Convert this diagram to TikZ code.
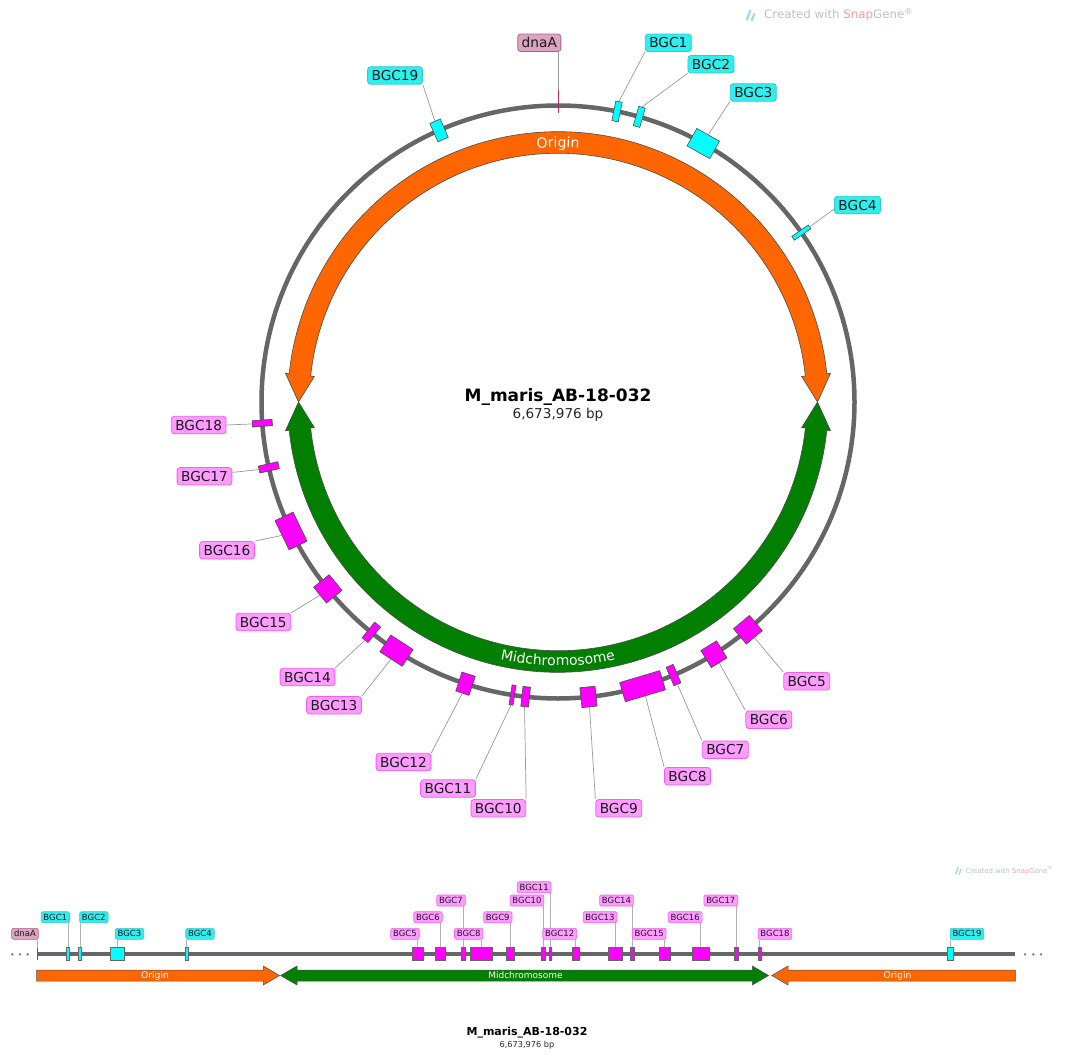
\documentclass[tikz,border=0pt]{standalone}
\usepackage{fontspec}
\setmainfont{DejaVu Sans}
\usetikzlibrary{decorations.text}
\pgfdeclarelayer{leaders}
\pgfsetlayers{leaders,main}
\definecolor{bbC}{HTML}{666666}
\definecolor{orangeC}{HTML}{FF6600}
\definecolor{greenC}{HTML}{007F00}
\definecolor{cyanF}{HTML}{00FFFF}
\definecolor{cyanL}{HTML}{2EEEEE}
\definecolor{cyanD}{HTML}{3BC8C8}
\definecolor{magF}{HTML}{FF00FF}
\definecolor{pinkL}{HTML}{FF9CFF}
\definecolor{pinkD}{HTML}{F060F0}
\definecolor{dnaL}{HTML}{D9A5C0}
\definecolor{dnaD}{HTML}{B2607F}
\definecolor{dnaT}{HTML}{B0306E}
\definecolor{leadC}{HTML}{999999}
\definecolor{wmGray}{HTML}{B8C2CC}
\definecolor{wmRed}{HTML}{F2A0A0}
\definecolor{iconC}{HTML}{A9D4EE}
\newcommand{\arcfontA}{\fontsize{14}{14}\selectfont\color{white}}
\begin{document}
\begin{tikzpicture}[x=1pt,y=1pt,
  feat/.style={draw=black!70, line width=0.6pt, inner sep=0pt, minimum height=20pt},
  fcy/.style={feat, fill=cyanF},
  fmg/.style={feat, fill=magF},
  lab/.style={rounded corners=3pt, line width=0.8pt, inner xsep=4pt, inner ysep=0pt,
    minimum height=17.5pt, text height=10pt, text depth=0pt,
    font=\fontsize{13.7}{14}\selectfont, text=black!90},
  labc/.style={lab, fill=cyanL, draw=cyanD},
  labp/.style={lab, fill=pinkL, draw=pinkD},
  labd/.style={lab, fill=dnaL, draw=dnaD},
  lead/.style={draw=leadC, line width=0.7pt},
  arrowline/.style={draw=black!70, line width=0.6pt, line join=miter},
  lfeat/.style={draw=black!60, line width=0.5pt, inner sep=0pt, minimum height=12.3pt},
  lcy/.style={lfeat, fill=cyanF},
  lmg/.style={lfeat, fill=magF},
  llab/.style={rounded corners=2pt, line width=0.6pt, inner xsep=2.4pt, inner ysep=0pt,
    minimum height=11pt, text height=6.2pt, text depth=0pt,
    font=\fontsize{8.5}{9}\selectfont, text=black!90},
  llc/.style={llab, fill=cyanL, draw=cyanD},
  llp/.style={llab, fill=pinkL, draw=pinkD},
  lld/.style={llab, fill=dnaL, draw=dnaD},
  llead/.style={draw=black!30, line width=0.8pt},
  dotC/.style={fill=black!55}
]
\useasboundingbox (0,0) rectangle (1066,-1054);

% watermark top
\fill[iconC] (745.5,-20) -- (749.5,-9.5) -- (751.5,-10.5) -- (747.8,-20.5) -- cycle;
\fill[iconC] (750.5,-20.5) -- (753.5,-13) -- (755.5,-14) -- (752.8,-21) -- cycle;
\node[anchor=base west, inner sep=0pt, font=\fontsize{11.8}{12}\selectfont] (wm1) at (764,-19)
  {\textcolor{wmGray}{Created with }\textcolor{wmRed}{Snap}\textcolor{wmGray}{Gene\textsuperscript{®}}};

% ================= circular map =================
\begin{scope}[shift={(558,-402)}]
  \draw[bbC, line width=4.5pt, line cap=round] (45:296.5) arc[start angle=45, end angle=405, radius=296.5];
  % Origin (orange)
  \draw[arrowline, fill=orangeC] (6:270.3) arc[start angle=6, end angle=174, radius=270.3]
    -- (174:274) -- (180:259.5) -- (174:245) -- (174:248.7)
    arc[start angle=174, end angle=6, radius=248.7]
    -- (6:245) -- (0:259.5) -- (6:274) -- cycle;
  % Midchromosome (green)
  \draw[arrowline, fill=greenC] (186:270.3) arc[start angle=186, end angle=354, radius=270.3]
    -- (354:274) -- (360:259.5) -- (354:245) -- (354:248.7)
    arc[start angle=354, end angle=186, radius=248.7]
    -- (186:245) -- (180:259.5) -- (186:274) -- cycle;
  \path[decorate, decoration={text along path, text={|\arcfontA|Origin}, text align=center}]
    (110:254.8) arc[start angle=110, end angle=70, radius=254.8];
  \path[decorate, decoration={text along path, text={|\arcfontA|Midchromosome}, text align=center}]
    (240:263.8) arc[start angle=240, end angle=300, radius=263.8];

  % dnaA tick
  \coordinate (dnaAin) at (90:289);
  \coordinate (dnaAout) at (90:312);
  \draw[dnaT, line width=1pt] (dnaAin) -- (dnaAout);

  % features
  \node[fcy, minimum width=6.5pt,  rotate=-11.48]  (f1)  at (78.52:296.5) {};
  \node[fcy, minimum width=6.7pt,  rotate=-15.91]  (f2)  at (74.09:296.5) {};
  \node[fcy, minimum width=26pt,   rotate=-29.34]  (f3)  at (60.66:296.5) {};
  \node[fcy, minimum width=4.6pt,  rotate=-55.15]  (f4)  at (34.85:296.5) {};
  \node[fmg, minimum width=20.8pt, rotate=-140.18] (f5)  at (-50.18:296.5) {};
  \node[fmg, minimum width=18.4pt, rotate=-148.28] (f6)  at (-58.28:296.5) {};
  \node[fmg, minimum width=7.6pt,  rotate=-157.07] (f7)  at (-67.07:296.5) {};
  \node[fmg, minimum width=41.8pt, rotate=-163.44] (f8)  at (-73.44:296.5) {};
  \node[fmg, minimum width=15.2pt, rotate=-174.1]  (f9)  at (-84.1:296.5) {};
  \node[fmg, minimum width=7.6pt,  rotate=-186.26] (f10) at (-96.26:296.5) {};
  \node[fmg, minimum width=4pt,    rotate=-188.82] (f11) at (-98.82:296.5) {};
  \node[fmg, minimum width=13.9pt, rotate=-198.18] (f12) at (-108.18:296.5) {};
  \node[fmg, minimum width=26.6pt, rotate=-213.01] (f13) at (-123.01:296.5) {};
  \node[fmg, minimum width=7.6pt,  rotate=-219.02] (f14) at (-129.02:296.5) {};
  \node[fmg, minimum width=20.3pt, rotate=-230.94] (f15) at (-140.94:296.5) {};
  \node[fmg, minimum width=32.3pt, rotate=-244.22] (f16) at (-154.22:296.5) {};
  \node[fmg, minimum width=7.1pt,  rotate=-257.26] (f17) at (-167.26:296.5) {};
  \node[fmg, minimum width=6.3pt,  rotate=-265.9]  (f18) at (-175.9:296.5) {};
  \node[fcy, minimum width=11.3pt, rotate=-336.35] (f19) at (-246.35:296.5) {};
\end{scope}

% centre title
\node[anchor=base, inner sep=0pt, font=\fontsize{17}{17}\selectfont\bfseries] (ctitle) at (558,-401) {M\_maris\_AB-18-032};
\node[anchor=base, inner sep=0pt, font=\fontsize{13.6}{14}\selectfont, text=black!85] (csub) at (558,-418.3) {6,673,976 bp};

% labels
\node[labd] (ldnaA) at (539.3,-42.8) {dnaA};
\node[labc] (l1)  at (668.3,-42.85) {BGC1};
\node[labc] (l2)  at (711,-64.2) {BGC2};
\node[labc] (l3)  at (753.3,-92.5) {BGC3};
\node[labc] (l4)  at (857.5,-205) {BGC4};
\node[labp] (l5)  at (806.7,-681.3) {BGC5};
\node[labp] (l6)  at (768.8,-719.7) {BGC6};
\node[labp] (l7)  at (725.3,-749.7) {BGC7};
\node[labp] (l8)  at (687.5,-776.2) {BGC8};
\node[labp] (l9)  at (618.8,-808.3) {BGC9};
\node[labp] (l10) at (498.3,-808.3) {BGC10};
\node[labp] (l11) at (448,-788.5) {BGC11};
\node[labp] (l12) at (403.5,-762) {BGC12};
\node[labp] (l13) at (334,-705.3) {BGC13};
\node[labp] (l14) at (307.5,-677) {BGC14};
\node[labp] (l15) at (263.3,-622) {BGC15};
\node[labp] (l16) at (227,-550.3) {BGC16};
\node[labp] (l17) at (204.5,-476.3) {BGC17};
\node[labp] (l18) at (198.7,-425) {BGC18};
\node[labc] (l19) at (395,-75.5) {BGC19};

% leaders
\draw[lead] (dnaAout) -- (ldnaA.south -| dnaAout);
\draw[lead] (f1.north) -- (l1.south west);
\draw[lead] (f2.north) -- (l2.south west);
\draw[lead] (f3.north) -- (l3.south west);
\draw[lead] (f4.north) -- (l4.190);
\draw[lead] (f5.north) -- (l5.north west);
\draw[lead] (f6.north) -- (l6.north west);
\draw[lead] (f7.north) -- (l7.north west);
\draw[lead] (f8.north) -- (l8.north west);
\draw[lead] (f9.north) -- (l9.north west);
\draw[lead] (f10.north) -- (l10.north east);
\draw[lead] (f11.north) -- (l11.north east);
\draw[lead] (f12.north) -- (l12.north east);
\draw[lead] (f13.north) -- (l13.north east);
\draw[lead] (f14.north) -- (l14.north east);
\draw[lead] (f15.north) -- (l15.north east);
\draw[lead] (f16.north) -- (l16.north east);
\draw[lead] (f17.north) -- (l17.8);
\draw[lead] (f18.north) -- (l18.east);
\draw[lead] (f19.north) -- (l19.south east);

% ================= linear map =================
\fill[iconC] (955,-874) -- (957.5,-866.5) -- (958.8,-867.2) -- (956.5,-874.4) -- cycle;
\fill[iconC] (958.3,-874.4) -- (960.3,-869) -- (961.6,-869.6) -- (959.6,-874.8) -- cycle;
\node[anchor=base west, inner sep=0pt, font=\fontsize{6.9}{7}\selectfont] (wm2) at (965.5,-873)
  {\textcolor{wmGray}{Created with }\textcolor{wmRed}{Snap}\textcolor{wmGray}{Gene\textsuperscript{®}}};

\draw[bbC, line width=4pt] (37,-953.8) -- (1015.3,-953.8);
\foreach \dx in {12.3,20,27.7,1025,1033.3,1041} \fill[dotC] (\dx,-954.3) circle[radius=1.3];

% arrows
\draw[arrowline, line width=0.5pt, fill=orangeC] (36.7,-970) -- (263.3,-970) -- (263.3,-966) -- (279.6,-975.5)
  -- (263.3,-985) -- (263.3,-981) -- (36.7,-981) -- cycle;
\draw[arrowline, line width=0.5pt, fill=greenC] (280.6,-975.5) -- (297,-966) -- (297,-970) -- (752.3,-970) -- (752.3,-966)
  -- (768.6,-975.5) -- (752.3,-985) -- (752.3,-981) -- (297,-981) -- (297,-985) -- cycle;
\draw[arrowline, line width=0.5pt, fill=orangeC] (771.7,-975.5) -- (788,-966) -- (788,-970) -- (1015.3,-970)
  -- (1015.3,-981) -- (788,-981) -- (788,-985) -- cycle;
\node[font=\fontsize{9.2}{9}\selectfont, text=white, inner sep=0pt] (tor1) at (155,-975.5) {Origin};
\node[font=\fontsize{9}{9}\selectfont, text=white, inner sep=0pt] (tmid) at (525.5,-975.5) {Midchromosome};
\node[font=\fontsize{9.2}{9}\selectfont, text=white, inner sep=0pt] (tor2) at (897.5,-975.5) {Origin};

% dnaA tick
\coordinate (ldin) at (37,-960);
\coordinate (ldout) at (37,-947.5);
\draw[dnaT, line width=0.9pt] (ldin) -- (ldout);

% linear features
\node[lcy, minimum width=3pt]    (g1)  at (68.1,-953.8) {};
\node[lcy, minimum width=3pt]    (g2)  at (80.2,-953.8) {};
\node[lcy, minimum width=14pt]   (g3)  at (117,-953.8) {};
\node[lcy, minimum width=2.5pt]  (g4)  at (186.8,-953.8) {};
\node[lmg, minimum width=11pt]   (g5)  at (417.8,-953.8) {};
\node[lmg, minimum width=9.7pt]  (g6)  at (439.9,-953.8) {};
\node[lmg, minimum width=4pt]    (g7)  at (463.7,-953.8) {};
\node[lmg, minimum width=22pt]   (g8)  at (481,-953.8) {};
\node[lmg, minimum width=8pt]    (g9)  at (510,-953.8) {};
\node[lmg, minimum width=4pt]    (g10) at (543,-953.8) {};
\node[lmg, minimum width=1.6pt]  (g11) at (550,-953.8) {};
\node[lmg, minimum width=7.3pt]  (g12) at (575.4,-953.8) {};
\node[lmg, minimum width=14pt]   (g13) at (615.7,-953.8) {};
\node[lmg, minimum width=4pt]    (g14) at (632,-953.8) {};
\node[lmg, minimum width=10.7pt] (g15) at (664.4,-953.8) {};
\node[lmg, minimum width=17pt]   (g16) at (700.5,-953.8) {};
\node[lmg, minimum width=3.7pt]  (g17) at (735.9,-953.8) {};
\node[lmg, minimum width=3.3pt]  (g18) at (759.4,-953.8) {};
\node[lcy, minimum width=6pt]    (g19) at (950.7,-953.8) {};

% linear labels
\node[lld] (hdnaA) at (25,-933.8) {dnaA};
\node[llc] (h1)  at (55.3,-917.2) {BGC1};
\node[llc] (h2)  at (93.8,-917.2) {BGC2};
\node[llc] (h3)  at (129.5,-933.8) {BGC3};
\node[llc] (h4)  at (200,-933.8) {BGC4};
\node[llp] (h5)  at (405,-933.8) {BGC5};
\node[llp] (h6)  at (428,-917.2) {BGC6};
\node[llp] (h7)  at (451,-900.5) {BGC7};
\node[llp] (h8)  at (468.7,-933.8) {BGC8};
\node[llp] (h9)  at (497.8,-917.2) {BGC9};
\node[llp] (h10) at (527,-900.5) {BGC10};
\node[llp] (h11) at (534.2,-887.2) {BGC11};
\node[llp] (h12) at (559.7,-933.8) {BGC12};
\node[llp] (h13) at (600,-917.2) {BGC13};
\node[llp] (h14) at (616.5,-900.5) {BGC14};
\node[llp] (h15) at (649.2,-933.8) {BGC15};
\node[llp] (h16) at (685.2,-917.2) {BGC16};
\node[llp] (h17) at (720.8,-900.5) {BGC17};
\node[llp] (h18) at (775,-933.8) {BGC18};
\node[llc] (h19) at (967,-933.8) {BGC19};

% linear leaders (behind the labels)
\begin{pgfonlayer}{leaders}
\draw[llead] (ldout) -- (ldout |- hdnaA.south);
\foreach \i in {1,...,19} {
  \draw[llead] (g\i.north) -- (g\i.north |- h\i.south);
}
\end{pgfonlayer}

% bottom title
\node[anchor=base, inner sep=0pt, font=\fontsize{11}{11}\selectfont\bfseries] (ltitle) at (527,-1035) {M\_maris\_AB-18-032};
\node[anchor=base, inner sep=0pt, font=\fontsize{8.2}{8}\selectfont, text=black!85] (lsub) at (527,-1047) {6,673,976 bp};
\end{tikzpicture}
\end{document}
